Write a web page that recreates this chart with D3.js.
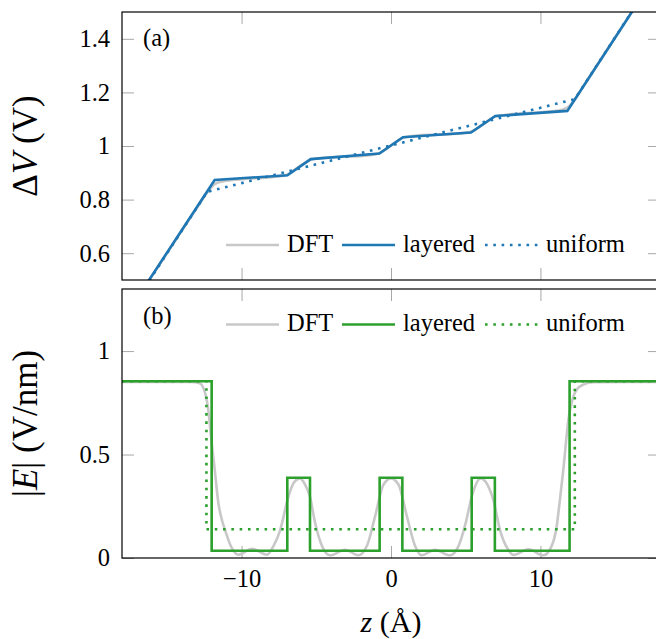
<!DOCTYPE html>
<html>
<head>
<meta charset="utf-8">
<script src="https://cdn.jsdelivr.net/npm/d3@7"></script>
<style>
  body { margin: 0; background: #fff; }
  svg text { font-family: "Liberation Serif", "Nimbus Roman", "Times New Roman", Times, "DejaVu Serif", serif; fill: #000; }
</style>
</head>
<body>
<svg id="chart" width="656" height="639"></svg>
<script>
// ---- tick values ----
const zTicks = [-10, 0, 10];
const potentialTicks = [0.6, 0.8, 1, 1.2, 1.4];
const fieldTicks = [0, 0.5, 1];
const seriesNames = ["DFT", "layered", "uniform"];

// ---- panel (a): potential across the slab, z in Å, V in volts ----
const potZ_dft = [-18, -13.0, -12.3, -11.8, -11.2, -10, -7.6, -6.95, -6.2, -5.4, -4.8, -1.4, -0.76, 0, 0.76, 1.4, 4.8, 5.4, 6.2, 6.95, 7.6, 10, 11.2, 11.8, 12.3, 13.0, 18];
const potV_dft = [0.343, 0.768, 0.826, 0.858, 0.869, 0.876, 0.886, 0.893, 0.921, 0.948, 0.954, 0.966, 0.974, 1.002, 1.030, 1.037, 1.048, 1.054, 1.082, 1.109, 1.116, 1.126, 1.132, 1.143, 1.175, 1.234, 1.662];
const potZ_layered = [-18, -11.8, -6.93, -5.37, -0.78, 0.8, 5.35, 6.98, 11.8, 18];
const potV_layered = [0.346, 0.873, 0.891, 0.951, 0.972, 1.033, 1.050, 1.112, 1.131, 1.661];
const potZ_uniform = [-18, -12.3, 12.3, 18];
const potV_uniform = [0.342, 0.829, 1.175, 1.662];

// ---- panel (b): field magnitude, V/nm ----
const fieldZ_dft = [-18, -13.4, -12.8, -12.45, -12.2, -12.05, -11.8, -11.55, -11.3, -11.1, -10.7, -10.2, -9.3, -8.3, -7.85, -7.42, -6.87, -6.5, -6.1, -5.75, -5.42, -5.08, -4.6, -4.08, -3.08, -2.18, -1.6, -1.07, -0.5, 0, 0.5, 1.07, 1.6, 2.05, 2.94, 3.95, 4.5, 5.0, 5.4, 6.0, 6.45, 6.85, 7.3, 7.8, 8.19, 9.2, 10.2, 10.7, 11.08, 11.3, 11.53, 11.87, 12.2, 12.5, 12.87, 13.5, 18];
const fieldE_dft = [0.851, 0.851, 0.845, 0.80, 0.70, 0.59, 0.43, 0.265, 0.18, 0.134, 0.055, 0.016, 0.045, 0.016, 0.06, 0.134, 0.296, 0.365, 0.385, 0.355, 0.296, 0.17, 0.055, 0.013, 0.04, 0.013, 0.06, 0.2, 0.355, 0.385, 0.355, 0.2, 0.06, 0.013, 0.04, 0.013, 0.055, 0.17, 0.296, 0.385, 0.355, 0.28, 0.134, 0.045, 0.015, 0.042, 0.013, 0.05, 0.15, 0.28, 0.426, 0.668, 0.78, 0.82, 0.838, 0.85, 0.851];
const layerEdges = [-18, -12.0, -6.94, -5.42, -0.76, 0.76, 5.4, 6.95, 11.95, 18];
const fieldE_layered = [0.854, 0.035, 0.388, 0.035, 0.388, 0.035, 0.388, 0.035, 0.854];
const uniformEdges = [-18, -12.35, 12.3, 18];
const fieldE_uniform = [0.854, 0.139, 0.854];

// ---- styling ----
const serif = '"Liberation Serif", "Nimbus Roman", "Times New Roman", Times, "DejaVu Serif", serif';
const colors = { dft: "#c8c8c8", blue: "#1f77b4", green: "#2ca02c" };
const lineW = 2.6;
const dotDash = "2.6 5.7";
const tickColor = "#a8a8a8";
const fontSize = 24.5;
const yTitleSize = 35;
const xTitleSize = 30;

const svg = d3.select("#chart");
const left = 122, right = 660;
const x = d3.scaleLinear().domain([-18, 18]).range([left, right]);

function zip(zs, vs) { return zs.map((z, i) => [z, vs[i]]); }
// piecewise-constant profile: value vals[i] holds on [edges[i], edges[i+1])
function steps(edges, vals) {
  const pts = vals.map((v, i) => [edges[i], v]);
  pts.push([edges[edges.length - 1], vals[vals.length - 1]]);
  return pts;
}

function panel(cfg) {
  const y = d3.scaleLinear().domain(cfg.yDomain).range([cfg.bottom, cfg.top]);
  const g = svg.append("g");
  const clipId = "clip-" + cfg.id;
  svg.append("defs").append("clipPath").attr("id", clipId)
    .append("rect").attr("x", left).attr("y", cfg.top)
    .attr("width", right - left).attr("height", cfg.bottom - cfg.top);

  // axes with inward ticks on all four sides
  const axL = d3.axisLeft(y).tickValues(cfg.yTicks).tickSizeInner(-12).tickSizeOuter(0)
    .tickPadding(12).tickFormat(d3.format("~g"));
  const axR = d3.axisRight(y).tickValues(cfg.yTicks).tickSizeInner(-12).tickSizeOuter(0).tickFormat("");
  const axT = d3.axisTop(x).tickValues(zTicks).tickSizeInner(-12).tickSizeOuter(0).tickFormat("");
  const axB = d3.axisBottom(x).tickValues(zTicks).tickSizeInner(-12).tickSizeOuter(0)
    .tickPadding(12).tickFormat(cfg.xLabels ? d3.format("~g") : "");

  const axes = [
    [axL, `translate(${left},0)`],
    [axR, `translate(${right},0)`],
    [axT, `translate(0,${cfg.top})`],
    [axB, `translate(0,${cfg.bottom})`]
  ];
  axes.forEach(([ax, tr]) => {
    const a = g.append("g").attr("transform", tr).call(ax)
      .attr("font-family", serif).attr("font-size", fontSize);
    a.select(".domain").remove();
    a.selectAll(".tick line").attr("stroke", tickColor).attr("stroke-width", 1);
    a.selectAll("text").attr("fill", "#000");
  });

  const plot = g.append("g").attr("clip-path", `url(#${clipId})`);
  const smooth = d3.line().x(d => x(d[0])).y(d => y(d[1])).curve(d3.curveMonotoneX);
  const model = d3.line().x(d => x(d[0])).y(d => y(d[1]))
    .curve(cfg.stepped ? d3.curveStepAfter : d3.curveLinear);

  plot.append("path").attr("d", smooth(cfg.dft))
    .attr("fill", "none").attr("stroke", colors.dft).attr("stroke-width", lineW);
  plot.append("path").attr("d", model(cfg.layered))
    .attr("fill", "none").attr("stroke", cfg.color).attr("stroke-width", lineW)
    .attr("stroke-linejoin", "miter");
  plot.append("path").attr("d", model(cfg.uniform))
    .attr("fill", "none").attr("stroke", cfg.color).attr("stroke-width", lineW)
    .attr("stroke-dasharray", dotDash);

  // frame
  g.append("rect").attr("x", left).attr("y", cfg.top)
    .attr("width", right - left).attr("height", cfg.bottom - cfg.top)
    .attr("fill", "none").attr("stroke", "#000").attr("stroke-width", 1.2);

  // panel tag
  g.append("text").attr("x", 143).attr("y", cfg.tagY).style("font-size", fontSize + "px").text(cfg.tag);

  // legend
  const ly = cfg.legendY;
  const items = [
    { x0: 226, tx: 287, stroke: colors.dft, dash: null },
    { x0: 342, tx: 403, stroke: cfg.color, dash: null },
    { x0: 485, tx: 546, stroke: cfg.color, dash: dotDash }
  ];
  items.forEach((it, i) => {
    const ln = g.append("line").attr("x1", it.x0).attr("x2", it.x0 + 53)
      .attr("y1", ly).attr("y2", ly).attr("stroke", it.stroke).attr("stroke-width", lineW);
    if (it.dash) ln.attr("stroke-dasharray", it.dash);
    g.append("text").attr("x", it.tx).attr("y", ly + 6.5)
      .style("font-size", fontSize + "px").text(seriesNames[i]);
  });

  // y-axis title
  const yt = g.append("text")
    .attr("transform", `translate(37,${(cfg.top + cfg.bottom) / 2}) rotate(-90)`)
    .attr("text-anchor", "middle").style("font-size", yTitleSize + "px");
  cfg.yTitle(yt);
  return y;
}

panel({
  id: "a", top: 12, bottom: 280, yDomain: [0.5, 1.5], yTicks: potentialTicks,
  color: colors.blue, tag: "(a)", tagY: 46, legendY: 245, xLabels: false, stepped: false,
  dft: zip(potZ_dft, potV_dft),
  layered: zip(potZ_layered, potV_layered),
  uniform: zip(potZ_uniform, potV_uniform),
  yTitle: t => {
    t.append("tspan").text("Δ");
    t.append("tspan").style("font-style", "italic").text("V");
    t.append("tspan").text(" (V)");
  }
});

panel({
  id: "b", top: 289, bottom: 558, yDomain: [0, 1.3], yTicks: fieldTicks,
  color: colors.green, tag: "(b)", tagY: 324, legendY: 324.5, xLabels: true, stepped: true,
  dft: zip(fieldZ_dft, fieldE_dft),
  layered: steps(layerEdges, fieldE_layered),
  uniform: steps(uniformEdges, fieldE_uniform),
  yTitle: t => {
    t.append("tspan").text("|");
    t.append("tspan").style("font-style", "italic").text("E");
    t.append("tspan").text("| (V/nm)");
  }
});

// x-axis title
const xt = svg.append("text").attr("x", x(0)).attr("y", 632)
  .attr("text-anchor", "middle").style("font-size", xTitleSize + "px");
xt.append("tspan").style("font-style", "italic").text("z");
xt.append("tspan").text(" (Å)");
</script>
</body>
</html>
